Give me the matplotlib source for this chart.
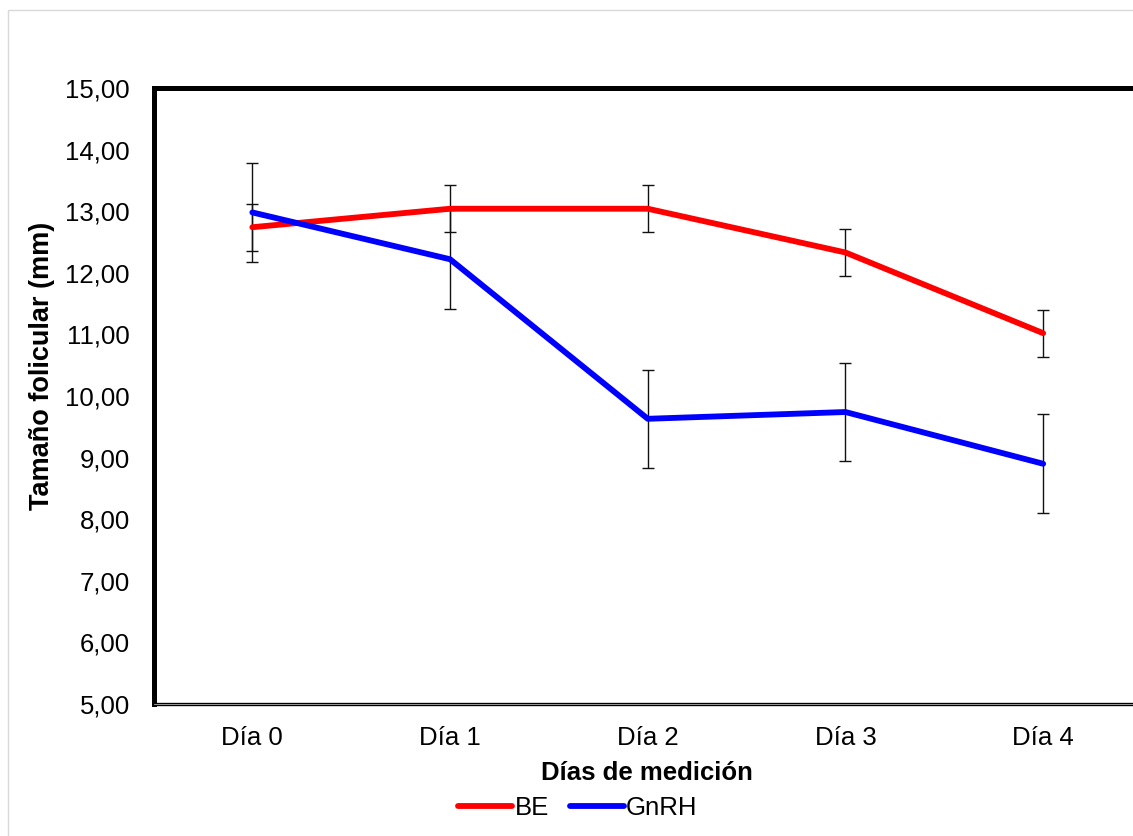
import matplotlib
matplotlib.use("Agg")
import matplotlib.pyplot as plt
from matplotlib.patches import Rectangle

plt.rcParams['font.family'] = ['Liberation Sans', 'DejaVu Sans']

categories = ["Día 0", "Día 1", "Día 2", "Día 3", "Día 4"]
be_values = [12.74, 13.04, 13.04, 12.33, 11.02]
be_err = [0.38, 0.38, 0.38, 0.38, 0.38]
gnrh_values = [12.98, 12.22, 9.63, 9.74, 8.90]
gnrh_err = [0.80, 0.80, 0.80, 0.80, 0.80]
yticks = [5, 6, 7, 8, 9, 10, 11, 12, 13, 14, 15]
ytick_labels = ["5,00", "6,00", "7,00", "8,00", "9,00", "10,00", "11,00",
                "12,00", "13,00", "14,00", "15,00"]

W, H = 1133, 836
fig = plt.figure(figsize=(W / 100, H / 100), dpi=100)

# outer chart border
fig.patches.append(Rectangle((8 / W, -0.1), 1.2, 1 - 10 / H + 0.1,
                             transform=fig.transFigure, fill=False,
                             edgecolor='#d9d9d9', linewidth=1.0))

ax = fig.add_axes([153.5 / W, 1 - 704 / H, 988.5 / W, 616 / H])

x = list(range(len(categories)))
ax.errorbar(x, be_values, yerr=be_err, fmt='none', ecolor='#111111',
            elinewidth=1.0, capsize=4.3, capthick=1.0, zorder=2)
ax.errorbar(x, gnrh_values, yerr=gnrh_err, fmt='none', ecolor='#111111',
            elinewidth=1.0, capsize=4.3, capthick=1.0, zorder=2)
ax.plot(x, be_values, color='#ff0000', lw=4.2, solid_capstyle='round',
        solid_joinstyle='round', zorder=3, label='BE')
ax.plot(x, gnrh_values, color='#0000ff', lw=4.2, solid_capstyle='round',
        solid_joinstyle='round', zorder=3, label='GnRH')

ax.set_xlim(-0.5, 4.5)
ax.set_ylim(5, 15)
ax.set_xticks(x)
ax.set_xticklabels(categories, fontsize=18.5)
ax.set_yticks(yticks)
ax.set_yticklabels(ytick_labels, fontsize=18.5)
ax.tick_params(axis='both', length=0)
ax.tick_params(axis='y', pad=17)
ax.tick_params(axis='x', pad=16)

for side in ['top', 'left']:
    ax.spines[side].set_linewidth(3.6)
    ax.spines[side].set_color('black')
ax.spines['bottom'].set_linewidth(2.4)
ax.spines['bottom'].set_color('black')
ax.spines['right'].set_visible(False)
ax.axhline(5, color='#b0b0b0', lw=0.6, zorder=4, clip_on=False)

fig.text(42 / W, 1 - 366 / H, "Tamaño folicular (mm)", rotation=90,
         ha='center', va='center', fontsize=19.5, fontweight='bold')
fig.text(647 / W, 1 - 773 / H, "Días de medición", ha='center',
         va='center', fontsize=18.5, fontweight='bold')

fig.legend(loc='center', bbox_to_anchor=(578 / W, 1 - 808 / H), ncol=2,
           frameon=False, fontsize=18.5, handlelength=2.1,
           handletextpad=0.1, columnspacing=0.8, borderpad=0)

fig.savefig("out.png", dpi=100)
